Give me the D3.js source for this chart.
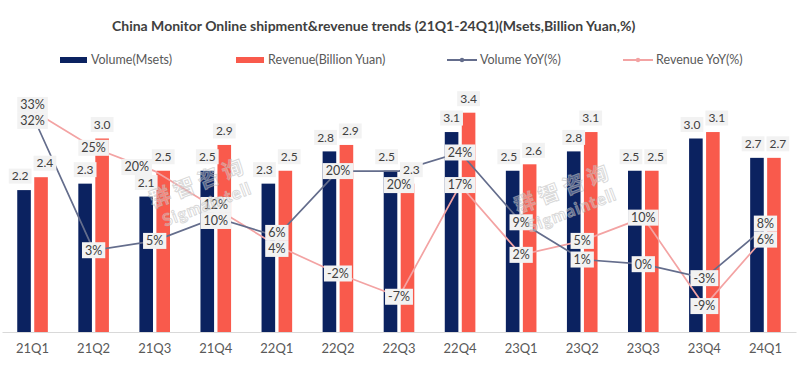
<!DOCTYPE html>
<html>
<head>
<meta charset="utf-8">
<script src="https://cdn.jsdelivr.net/npm/d3@7/dist/d3.min.js"></script>
<style>
  body { margin: 0; background: #fff; }
  svg { display: block; font-family: Lato, "Noto Sans", sans-serif; }
</style>
</head>
<body>
<div id="chart"></div>
<script>
// data
const quarters = ['21Q1', '21Q2', '21Q3', '21Q4', '22Q1', '22Q2', '22Q3', '22Q4', '23Q1', '23Q2', '23Q3', '23Q4', '24Q1']
const volume = [2.2, 2.3, 2.1, 2.5, 2.3, 2.8, 2.5, 3.1, 2.5, 2.8, 2.5, 3.0, 2.7]
const revenue = [2.4, 3.0, 2.5, 2.9, 2.5, 2.9, 2.3, 3.4, 2.6, 3.1, 2.5, 3.1, 2.7]
const volumeYoY = [32, 3, 5, 10, 6, 20, 20, 24, 9, 1, 0, -3, 8]
const revenueYoY = [33, 25, 20, 12, 4, -2, -7, 17, 2, 5, 10, -9, 6]

const title = 'China Monitor Online shipment&revenue trends (21Q1-24Q1)(Msets,Billion Yuan,%)'

const width = 800
const height = 372
const plot = { left: 2, right: 796, top: 74, bottom: 332 }

// colours
const navy = '#0b2260'
const coral = '#f95a4c'
const volLine = '#646d8c'
const revLine = '#f3a3a3'
const labelBg = '#f2f2f2'
const labelText = '#404040'
const greyText = '#595959'

const svg = d3.select('#chart')
  .append('svg')
  .attr('width', width)
  .attr('height', height)

// title
svg.append('text')
  .attr('x', 112)
  .attr('y', 31)
  .style('font-size', '14px')
  .style('font-weight', 'bold')
  .attr('fill', labelText)
  .text(title)

// scales
const x = d3.scaleBand()
  .domain(quarters)
  .range([plot.left, plot.right])
const half = 15.3
const x1 = d3.scaleBand()
  .domain(['vol', 'rev'])
  .range([x.bandwidth() / 2 - half, x.bandwidth() / 2 + half])
  .paddingInner(0.2)
const y = d3.scaleLinear()
  .domain([0, 4])
  .range([plot.bottom, plot.top])
const yPct = d3.scaleLinear()
  .domain([-15, 40])
  .range([334, 78])
const cx = (q) => x(q) + x.bandwidth() / 2

// x axis
const xAxis = svg.append('g')
  .attr('transform', `translate(0,${plot.bottom})`)
  .call(d3.axisBottom(x).tickSize(0).tickPadding(12))
xAxis.select('.domain')
  .attr('stroke', '#d9d9d9')
  .attr('stroke-width', 1.2)
xAxis.selectAll('text')
  .style('font-size', '13px')
  .style('font-family', 'Lato, "Noto Sans", sans-serif')
  .attr('fill', greyText)

// bars
const barData = quarters.map((q, i) => [
  { q: q, key: 'vol', v: volume[i], color: navy },
  { q: q, key: 'rev', v: revenue[i], color: coral }
]).flat()

svg.append('g')
  .selectAll('rect')
  .data(barData)
  .enter()
  .append('rect')
  .attr('x', (d) => x(d.q) + x1(d.key))
  .attr('y', (d) => y(d.v))
  .attr('width', x1.bandwidth())
  .attr('height', (d) => y(0) - y(d.v))
  .attr('fill', (d) => d.color)

// yoy lines
const lineGen = d3.line()
  .x((d) => cx(d.q))
  .y((d) => yPct(d.v))
const volPts = quarters.map((q, i) => ({ q: q, v: volumeYoY[i] }))
const revPts = quarters.map((q, i) => ({ q: q, v: revenueYoY[i] }))

svg.append('path')
  .datum(revPts)
  .attr('d', lineGen)
  .attr('fill', 'none')
  .attr('stroke', revLine)
  .attr('stroke-width', 1.7)
svg.append('path')
  .datum(volPts)
  .attr('d', lineGen)
  .attr('fill', 'none')
  .attr('stroke', volLine)
  .attr('stroke-width', 1.7)

// labels with grey boxes
const labels = svg.append('g')
const placed = []   // boxes already on the chart

function makeLabel (txt, size) {
  const t = labels.append('text')
    .attr('dy', '0.35em')
    .attr('text-anchor', 'middle')
    .style('font-size', size)
    .attr('fill', labelText)
    .text(txt)
  return { t: t, w: t.node().getComputedTextLength() + 6 }
}

function putLabel (lab, tx, ty, h) {
  lab.t.attr('x', tx).attr('y', ty)
  labels.insert('rect', () => lab.t.node())
    .attr('x', tx - lab.w / 2)
    .attr('y', ty - h / 2)
    .attr('width', lab.w)
    .attr('height', h)
    .attr('fill', labelBg)
  placed.push({ x0: tx - lab.w / 2, x1: tx + lab.w / 2, y0: ty - h / 2, y1: ty + h / 2 })
}

const hits = (b) => placed.some((p) =>
  b.x0 < p.x1 - 0.5 && b.x1 > p.x0 + 0.5 && b.y0 < p.y1 - 0.5 && b.y1 > p.y0 + 0.5)

// bar value labels, nudged sideways when a pair collides
const barH = 15
quarters.forEach((q, i) => {
  const lv = makeLabel(volume[i].toFixed(1), '12px')
  const lr = makeLabel(revenue[i].toFixed(1), '12px')
  let xv = x(q) + x1('vol') + x1.bandwidth() / 2
  let xr = x(q) + x1('rev') + x1.bandwidth() / 2
  const yv = y(volume[i]) - 14
  const yr = y(revenue[i]) - 14
  const overlapX = (lv.w + lr.w) / 2 - (xr - xv)
  if (Math.abs(yv - yr) < barH && overlapX > 0) {
    xv -= overlapX / 2 + 1
    xr += overlapX / 2 + 1
  }
  putLabel(lv, xv, yv, barH)
  putLabel(lr, xr, yr, barH)
})

// yoy labels: pairs pushed apart, then moved off any bar label they cover
// (moving right costs a little more, so the label prefers the left side)
const boxH = 16
function placeFree (lab, tx, ty) {
  let best = [0, 0]
  let bestD = Infinity
  for (let dx = -30; dx <= 30; dx += 1) {
    for (let dy = -30; dy <= 30; dy += 1) {
      const d = (dx > 0 ? 2.5 : 1) * dx * dx + dy * dy
      if (d >= bestD) continue
      const b = { x0: tx + dx - lab.w / 2, x1: tx + dx + lab.w / 2, y0: ty + dy - boxH / 2, y1: ty + dy + boxH / 2 }
      if (!hits(b)) { best = [dx, dy]; bestD = d }
    }
  }
  putLabel(lab, tx + best[0], ty + best[1], boxH)
}

quarters.forEach((q, i) => {
  let yv = yPct(volumeYoY[i])
  let yr = yPct(revenueYoY[i])
  if (Math.abs(yv - yr) < boxH) {
    const mid = (yv + yr) / 2
    const volTop = volumeYoY[i] > revenueYoY[i]
    yv = mid + (volTop ? -boxH / 2 : boxH / 2)
    yr = mid + (volTop ? boxH / 2 : -boxH / 2)
  }
  placeFree(makeLabel(revenueYoY[i] + '%', '12.5px'), cx(q), yr)
  placeFree(makeLabel(volumeYoY[i] + '%', '12.5px'), cx(q), yv)
})

// watermark over the plot
const marks = [[203, 194], [568, 200]]
marks.forEach(([mx, my]) => {
  const g = svg.append('g')
    .attr('transform', `translate(${mx},${my}) rotate(-21)`)
    .attr('text-anchor', 'middle')
    .attr('fill', '#ffffff')
    .attr('fill-opacity', 0.3)
    .attr('stroke', '#b8b8b8')
    .attr('stroke-opacity', 0.55)
    .attr('stroke-width', 1)
  g.append('text')
    .attr('y', -5)
    .style('font-size', '21px')
    .style('font-weight', 'bold')
    .style('font-family', '"Noto Sans CJK SC", sans-serif')
    .style('letter-spacing', '5px')
    .text('群智咨询')
  g.append('text')
    .attr('y', 17)
    .style('font-size', '17px')
    .style('font-weight', 'bold')
    .style('letter-spacing', '1px')
    .text('Sigmaintell')
})

// legend
const legend = svg.append('g')
  .style('font-size', '12.5px')
  .attr('fill', greyText)
const legendY = 60
legend.append('rect').attr('x', 60).attr('y', legendY - 3).attr('width', 27).attr('height', 6).attr('fill', navy)
legend.append('text').attr('x', 91).attr('y', legendY).attr('dy', '0.35em').text('Volume(Msets)')
legend.append('rect').attr('x', 236).attr('y', legendY - 3).attr('width', 28).attr('height', 6).attr('fill', coral)
legend.append('text').attr('x', 268).attr('y', legendY).attr('dy', '0.35em').text('Revenue(Billion Yuan)')

const lineItems = [
  { x: 447, color: volLine, label: 'Volume YoY(%)' },
  { x: 623, color: revLine, label: 'Revenue YoY(%)' }
]
lineItems.forEach((d) => {
  legend.append('line')
    .attr('x1', d.x).attr('x2', d.x + 30)
    .attr('y1', legendY).attr('y2', legendY)
    .attr('stroke', d.color)
    .attr('stroke-width', 2)
  legend.append('circle')
    .attr('cx', d.x + 15).attr('cy', legendY)
    .attr('r', 2.2)
    .attr('fill', d.color)
  legend.append('text')
    .attr('x', d.x + 33).attr('y', legendY).attr('dy', '0.35em')
    .text(d.label)
})
</script>
</body>
</html>
